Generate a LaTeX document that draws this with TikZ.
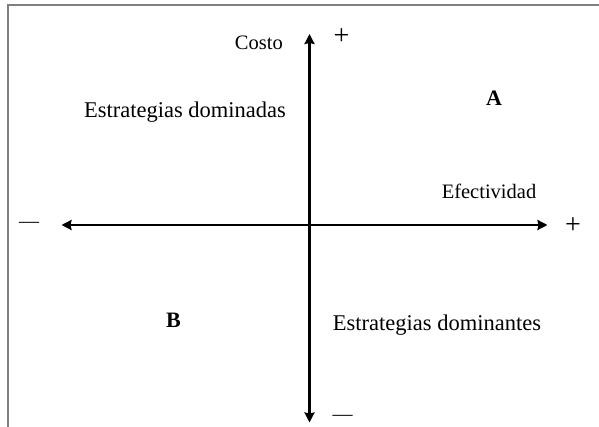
\documentclass[tikz,border=0pt]{standalone}
\usepackage{fontspec}
\setmainfont{Liberation Serif}
\usetikzlibrary{arrows.meta}
\begin{document}
\begin{tikzpicture}[x=1pt,y=-1pt,
  frameline/.style={draw=black!50,line width=2pt},
  axisline/.style={draw=black,line width=2.2pt,{Stealth[length=10pt,width=10pt,inset=1pt]}-{Stealth[length=10pt,width=10pt,inset=1pt]}},
  lbl/.style={font=\fontsize{20.5}{24}\selectfont,anchor=base,inner sep=0pt},
  lblw/.style={font=\fontsize{22.5}{26}\selectfont,anchor=base,inner sep=0pt},
  bigl/.style={font=\fontsize{22}{24}\selectfont\bfseries,anchor=base,inner sep=0pt},
  sign/.style={font=\fontsize{28}{30}\selectfont,inner sep=0pt}]
\useasboundingbox (0,0) rectangle (599,427);
\draw[frameline] (8,427) -- (8,5.5) -- (599,5.5);
\coordinate (top) at (309.5,34);
\coordinate (bot) at (309.5,422.5);
\coordinate (lft) at (61.5,225);
\coordinate (rgt) at (547.5,225);
\draw[axisline] (bot) -- (top);
\draw[axisline] (lft) -- (rgt);
\node[lbl,anchor=base east] (costo) at (283,50) {Costo};
\node[sign] (ptop) at (341.5,37) {+};
\node[sign] (prgt) at (573,226) {+};
\node[sign] (mlft) at (29,225) {\fontsize{20}{24}\selectfont —};
\node[sign] (mbot) at (342.5,417.5) {\fontsize{20}{24}\selectfont —};
\node[bigl] (A) at (494,106) {A};
\node[bigl] (B) at (173.5,327) {B};
\node[lblw] (dom) at (185,118) {Estrategias dominadas};
\node[lbl] (efe) at (489,199) {Efectividad};
\node[lblw] (domi) at (437,330) {Estrategias dominantes};
\end{tikzpicture}
\end{document}
